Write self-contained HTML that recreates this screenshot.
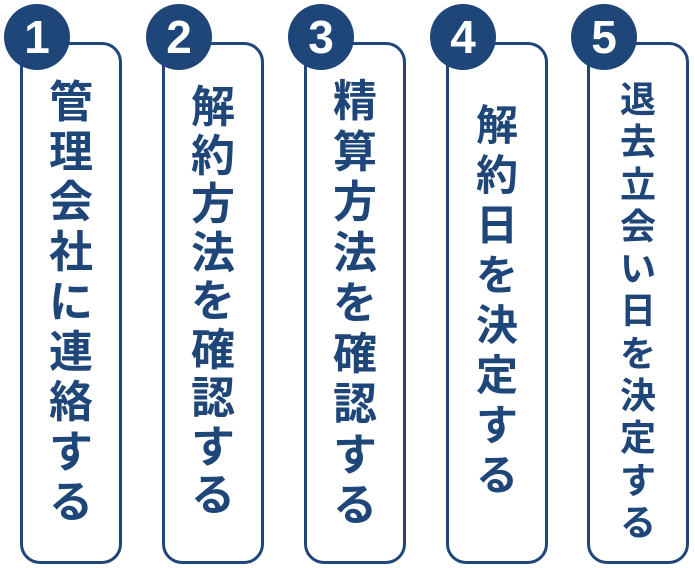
<!DOCTYPE html>
<html><head><meta charset="utf-8"><style>
body{margin:0;width:695px;height:568px;background:#fff;position:relative;overflow:hidden;font-family:"Liberation Sans","Noto Sans CJK JP",sans-serif}
.b{position:absolute;top:42px;width:96px;height:516px;border:3px solid #1f4679;border-radius:20px;background:#fff}
.c{position:absolute;top:4px;width:66px;height:66px;border-radius:50%;background:#1f4679;color:#fff;font-weight:bold;font-size:46px;line-height:66px;text-align:center;font-family:"Liberation Sans",sans-serif}
.t{position:absolute;color:#1f4679;font-weight:bold;text-align:center;width:100px}
.t span{display:block}
</style></head><body>
<div class="b" style="left:20px"></div>
<div class="b" style="left:162px"></div>
<div class="b" style="left:304px"></div>
<div class="b" style="left:446px"></div>
<div class="b" style="left:587px"></div>
<div class="c" style="left:4px">1</div>
<div class="c" style="left:146px">2</div>
<div class="c" style="left:288px">3</div>
<div class="c" style="left:430px">4</div>
<div class="c" style="left:571px">5</div>
<div class="t" style="left:21px;top:78px;font-size:44px;line-height:50px"><span>管</span><span>理</span><span>会</span><span>社</span><span>に</span><span>連</span><span>絡</span><span>す</span><span>る</span></div>
<div class="t" style="left:163px;top:84px;font-size:44px;line-height:48.5px"><span>解</span><span>約</span><span>方</span><span>法</span><span>を</span><span>確</span><span>認</span><span>す</span><span>る</span></div>
<div class="t" style="left:305px;top:77px;font-size:44px;line-height:50.5px"><span>精</span><span>算</span><span>方</span><span>法</span><span>を</span><span>確</span><span>認</span><span>す</span><span>る</span></div>
<div class="t" style="left:447px;top:101px;font-size:42px;line-height:50px"><span>解</span><span>約</span><span>日</span><span>を</span><span>決</span><span>定</span><span>す</span><span>る</span></div>
<div class="t" style="left:588px;top:79px;font-size:36px;line-height:42.3px"><span>退</span><span>去</span><span>立</span><span>会</span><span>い</span><span>日</span><span>を</span><span>決</span><span>定</span><span>す</span><span>る</span></div>
</body></html>
